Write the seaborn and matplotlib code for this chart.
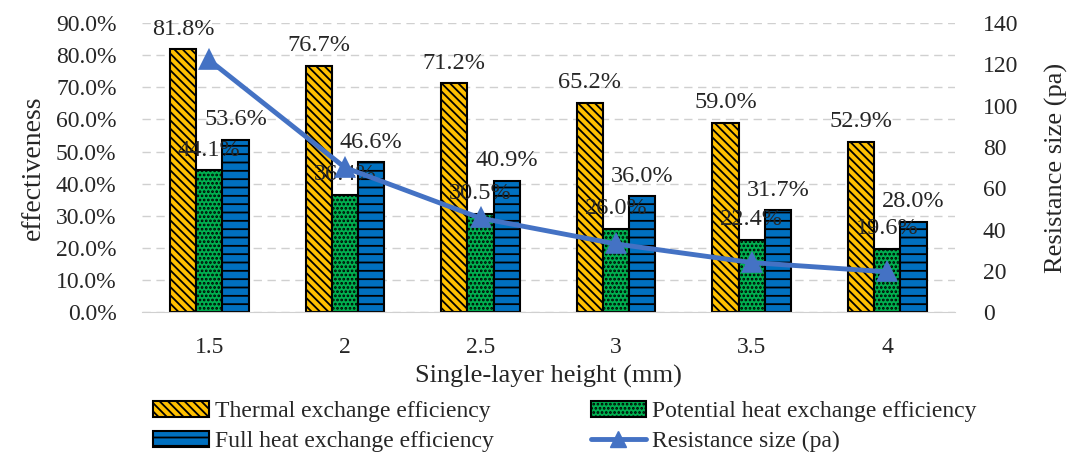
import matplotlib
matplotlib.use("Agg")
import matplotlib.pyplot as plt
from matplotlib.patches import Patch
from matplotlib.lines import Line2D
import pandas as pd
import seaborn as sns

sns.set_style("white")
plt.rcParams['font.family'] = ['Liberation Serif', 'DejaVu Serif']
plt.rcParams['hatch.linewidth'] = 1.3

heights = ["1.5", "2", "2.5", "3", "3.5", "4"]
thermal = [81.8, 76.7, 71.2, 65.2, 59.0, 52.9]
potential = [44.1, 36.4, 30.5, 26.0, 22.4, 19.6]
full = [53.6, 46.6, 40.9, 36.0, 31.7, 28.0]
resistance = [122, 70, 45.5, 33, 24, 19.5]

series_names = ["Thermal exchange efficiency",
                "Potential heat exchange efficiency",
                "Full heat exchange efficiency"]
colors = ["#FFC000", "#00B050", "#0070C0"]
hatches = ["\\\\\\\\", "....", "--"]
line_color = "#4472C4"

rows = []
for name, vals in zip(series_names, [thermal, potential, full]):
    for h, v in zip(heights, vals):
        rows.append({"height": h, "value": v / 100, "series": name})
df = pd.DataFrame(rows)

fig = plt.figure(figsize=(10.72, 4.61), dpi=100)
ax = fig.add_axes([0.132, 0.323, 0.759, 0.627])

sns.barplot(data=df, x="height", y="value", hue="series", order=heights,
            hue_order=series_names, palette=colors, width=0.58, ax=ax,
            edgecolor="black", linewidth=1.5, legend=False, saturation=1)

for cont, hatch, vals in zip(ax.containers, hatches, [thermal, potential, full]):
    for bar in cont:
        bar.set_hatch(hatch)
    ax.bar_label(cont, labels=["{:.1f}%".format(v) for v in vals],
                 padding=7, fontsize=17.5)

ax.set_ylim(0, 0.9)
ax.set_yticks([i / 10 for i in range(10)])
ax.set_yticklabels(["{:.1f}%".format(i * 10) for i in range(10)], fontsize=17)
ax.tick_params(axis="x", labelsize=17, length=0, pad=18)
ax.tick_params(axis="y", length=0, pad=18)
ax.yaxis.grid(True, linestyle=(0, (6, 4)), color="#d0d0d0", linewidth=1)
ax.set_axisbelow(True)
for s in ["top", "right", "left"]:
    ax.spines[s].set_visible(False)
ax.spines["bottom"].set_color("#d0d0d0")
ax.set_xlabel("Single-layer height (mm)", fontsize=19, labelpad=5)
ax.set_ylabel("effectiveness", fontsize=20, labelpad=7)

ax2 = ax.twinx()
sns.pointplot(x=heights, y=resistance, ax=ax2, color=line_color,
              marker="^", markersize=11, linewidth=3.5)
ax2.set_ylim(0, 140)
ax2.set_yticks(range(0, 141, 20))
ax2.tick_params(axis="y", labelsize=17, length=0, pad=20)
for s in ["top", "right", "left", "bottom"]:
    ax2.spines[s].set_visible(False)
ax2.set_ylabel("Resistance size (pa)", fontsize=19, labelpad=19)

handles = [Patch(facecolor=c, edgecolor="black", hatch=h, linewidth=1.5)
           for c, h in zip(colors, hatches)]
handles.append(Line2D([0], [0], color=line_color, lw=3.5, marker="^", markersize=11))
labels = series_names + ["Resistance size (pa)"]
order = [0, 2, 1, 3]
fig.legend([handles[i] for i in order], [labels[i] for i in order],
           loc="upper center", bbox_to_anchor=(0.527, 0.172), ncol=2,
           frameon=False, fontsize=17, columnspacing=4.1, handlelength=2.35,
           handletextpad=0.25, labelspacing=0.36, borderpad=0.3)

fig.savefig("out.png", dpi=100)
